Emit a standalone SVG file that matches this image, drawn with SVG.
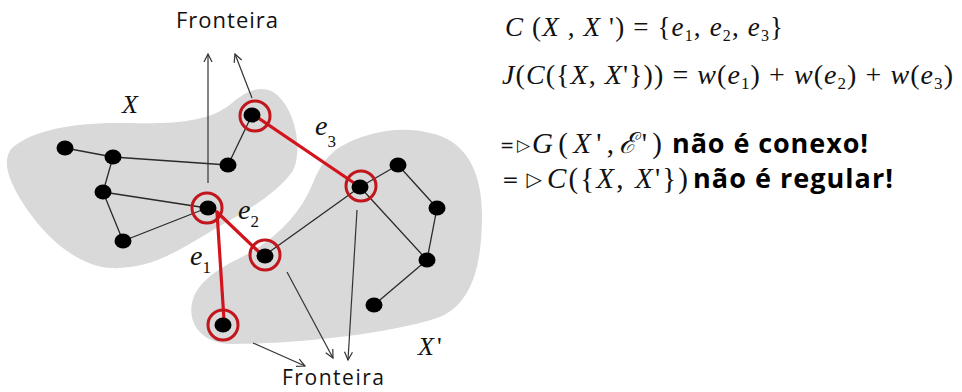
<svg xmlns="http://www.w3.org/2000/svg" width="962" height="392" viewBox="0 0 962 392">
<defs>
<style>
.blob{fill:#d9d9d9;stroke:none}
.dot{fill:#000}
.ring{fill:none;stroke:#c0161c;stroke-width:3}
.edge{stroke:#2a2a2a;stroke-width:1.3;fill:none}
.red{stroke:#d4141c;stroke-width:3.2;fill:none;stroke-linecap:round}
.arr{stroke:#333;stroke-width:1.2;fill:none;marker-end:url(#ah)}
.sans{font-family:"Open Sans","Liberation Sans",sans-serif;fill:#111}
.bold{font-family:"Open Sans","Liberation Sans",sans-serif;font-weight:700;fill:#000}
.m{font-family:"Liberation Serif","DejaVu Serif",serif;fill:#111}
.i{font-style:italic}
.sym{font-family:"DejaVu Sans",sans-serif;fill:#111}
</style>
<marker id="ah" viewBox="0 0 10 10" refX="9" refY="5" markerWidth="10" markerHeight="10" markerUnits="userSpaceOnUse" orient="auto">
<path d="M1,1 L9,5 L1,9" fill="none" stroke="#333" stroke-width="1.2"/>
</marker>
</defs>
<rect width="962" height="392" fill="#fff"/>
<g id="regions">
<path id="blobX" class="blob" d="M12,148 C35,128 80,122 130,123 C175,124 210,122 232,103 C250,88 268,82 282,100 C298,120 302,155 292,172 C275,195 245,212 213,230 C180,250 150,270 110,268 C70,265 35,225 18,195 C8,177 2,160 12,148 Z"/>
<path id="blobX2" class="blob" d="M340,147 C365,132 400,125 430,133 C465,140 482,170 482,215 C482,265 472,302 442,316 C402,332 300,344 232,344 C200,344 188,322 192,303 C196,284 215,270 240,258 C275,240 300,215 313,183 C320,165 328,155 340,147 Z"/>
</g>
<g id="connectors">
<line class="edge" x1="65" y1="148" x2="113" y2="157"/>
<line class="edge" x1="113" y1="157" x2="228" y2="165"/>
<line class="edge" x1="113" y1="157" x2="103" y2="192"/>
<line class="edge" x1="103" y1="192" x2="207" y2="208"/>
<line class="edge" x1="103" y1="192" x2="123" y2="241"/>
<line class="edge" x1="123" y1="241" x2="207" y2="208"/>
<line class="edge" x1="228" y1="165" x2="252" y2="115"/>
<line class="edge" x1="360" y1="187" x2="398" y2="165"/>
<line class="edge" x1="398" y1="165" x2="437" y2="208"/>
<line class="edge" x1="437" y1="208" x2="427" y2="260"/>
<line class="edge" x1="427" y1="260" x2="374" y2="305"/>
<line class="edge" x1="360" y1="187" x2="427" y2="260"/>
<line class="edge" x1="360" y1="187" x2="265" y2="255"/>
<line class="red" x1="254" y1="115" x2="360" y2="187"/>
<line class="red" x1="217" y1="212" x2="260" y2="253"/>
<line class="red" x1="217" y1="212" x2="224" y2="320"/>
<line class="arr" x1="208" y1="183" x2="208" y2="54"/>
<line class="arr" x1="252" y1="98" x2="235" y2="54"/>
<line class="arr" x1="253" y1="343" x2="305" y2="366"/>
<line class="arr" x1="287" y1="272" x2="333" y2="358"/>
<line class="arr" x1="357" y1="210" x2="348" y2="360"/>
</g>
<g id="nA"><ellipse class="dot" cx="65" cy="148" rx="8.5" ry="7.5"/></g>
<g id="nB"><ellipse class="dot" cx="113" cy="157" rx="8.5" ry="7.5"/></g>
<g id="nC"><ellipse class="dot" cx="103" cy="192" rx="8.5" ry="7.5"/></g>
<g id="nD"><ellipse class="dot" cx="123" cy="241" rx="8.5" ry="7.5"/></g>
<g id="nE"><ellipse class="dot" cx="208" cy="208" rx="8.5" ry="7.5"/><circle class="ring" cx="207" cy="208" r="15"/></g>
<g id="nF"><ellipse class="dot" cx="228" cy="165" rx="8.5" ry="7.5"/></g>
<g id="nG"><ellipse class="dot" cx="252" cy="115" rx="8.5" ry="7.5"/><circle class="ring" cx="255" cy="116" r="15"/></g>
<g id="nH"><ellipse class="dot" cx="360" cy="187" rx="8.5" ry="7.5"/><circle class="ring" cx="361" cy="186" r="15"/></g>
<g id="nI"><ellipse class="dot" cx="398" cy="165" rx="8.5" ry="7.5"/></g>
<g id="nJ"><ellipse class="dot" cx="437" cy="208" rx="8.5" ry="7.5"/></g>
<g id="nK"><ellipse class="dot" cx="427" cy="260" rx="8.5" ry="7.5"/></g>
<g id="nL"><ellipse class="dot" cx="265" cy="256" rx="8.5" ry="7.5"/><circle class="ring" cx="265" cy="255" r="15"/></g>
<g id="nM"><ellipse class="dot" cx="223" cy="325" rx="8.5" ry="7.5"/><circle class="ring" cx="223" cy="325" r="15"/></g>
<g id="nN"><ellipse class="dot" cx="374" cy="305" rx="8.5" ry="7.5"/></g>
<g id="labels">
<text class="sans" x="176" y="28" font-size="22" textLength="102">Fronteira</text>
<text class="sans" x="282" y="385" font-size="21" textLength="102">Fronteira</text>
<text class="m i" x="122" y="113" font-size="26">X</text>
<text class="m i" x="418" y="355" font-size="26">X<tspan font-style="normal" dx="3">'</tspan></text>
<text class="m" x="315" y="135" font-size="28"><tspan class="i">e</tspan><tspan font-size="17" dy="12">3</tspan></text>
<text class="m" x="238" y="219" font-size="28"><tspan class="i">e</tspan><tspan font-size="17" dy="8">2</tspan></text>
<text class="m" x="190" y="265" font-size="28"><tspan class="i">e</tspan><tspan font-size="17" dy="8">1</tspan></text>
</g>
<g id="formulas">
<text class="m" x="505" y="36" font-size="27" textLength="278"><tspan class="i">C</tspan> (<tspan class="i">X</tspan> , <tspan class="i">X</tspan> ') = {<tspan class="i">e</tspan><tspan font-size="16" dy="5">1</tspan><tspan dy="-5">, </tspan><tspan class="i">e</tspan><tspan font-size="16" dy="5">2</tspan><tspan dy="-5">, </tspan><tspan class="i">e</tspan><tspan font-size="16" dy="5">3</tspan><tspan dy="-5">}</tspan></text>
<text class="m" x="502" y="84" font-size="28" textLength="451"><tspan class="i">J</tspan>(<tspan class="i">C</tspan>({<tspan class="i">X</tspan>, <tspan class="i">X</tspan>'})) = <tspan class="i">w</tspan>(<tspan class="i">e</tspan><tspan font-size="17" dy="5">1</tspan><tspan dy="-5">) + </tspan><tspan class="i">w</tspan>(<tspan class="i">e</tspan><tspan font-size="17" dy="5">2</tspan><tspan dy="-5">) + </tspan><tspan class="i">w</tspan>(<tspan class="i">e</tspan><tspan font-size="17" dy="5">3</tspan><tspan dy="-5">)</tspan></text>
<text class="sym" x="500" y="151" font-size="17" textLength="30">=▷</text>
<text class="m" x="532" y="153" font-size="29" textLength="130"><tspan class="i">G</tspan>(<tspan class="i">X</tspan>',<tspan class="i">ℰ</tspan>')</text>
<text class="bold" x="672" y="153" font-size="27" textLength="196">não é conexo!</text>
<text class="sym" x="502" y="186" font-size="20" textLength="40">=▷</text>
<text class="m" x="547" y="188" font-size="29" textLength="141"><tspan class="i">C</tspan>({<tspan class="i">X</tspan>, <tspan class="i">X</tspan>'})</text>
<text class="bold" x="693" y="188" font-size="27" textLength="200">não é regular!</text>
</g>
</svg>
